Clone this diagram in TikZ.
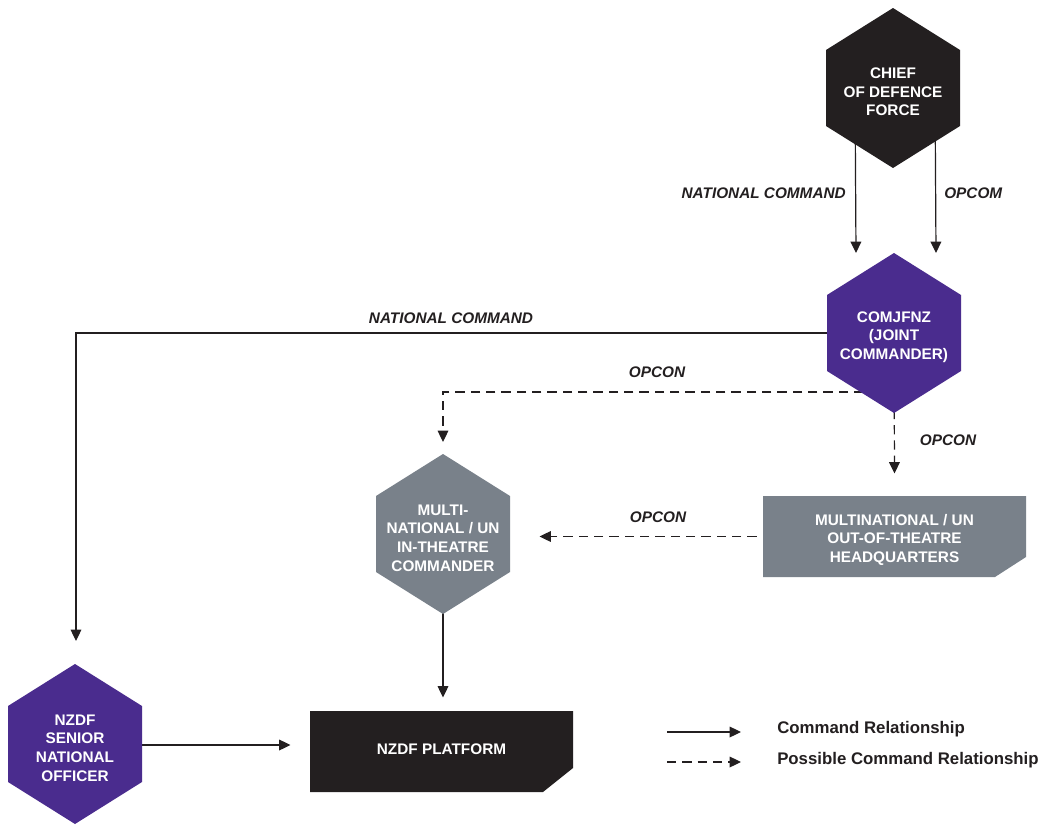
\documentclass[tikz,border=0pt]{standalone}
\usepackage{fontspec}
\setmainfont{Liberation Sans}
\usetikzlibrary{arrows.meta,calc,backgrounds}
\definecolor{hexblack}{HTML}{231F20}
\definecolor{hexpurple}{HTML}{4A2C8E}
\definecolor{hexgray}{HTML}{79818A}
\definecolor{linecol}{HTML}{231F20}
\newcommand{\hexfont}{\fontsize{11.5}{13.9}\selectfont\bfseries}
\newcommand{\labfont}{\fontsize{11.5}{13.9}\selectfont\bfseries\itshape}
\newcommand{\legfont}{\fontsize{12.6}{15}\selectfont\bfseries}
\tikzset{
  cmd/.style={draw=linecol, line width=0.9pt, -{Triangle[length=8.5pt,width=8pt]}},
  poss/.style={cmd, dash pattern=on 7pt off 4.5pt},
  hexlabel/.style={text=white, font=\hexfont, align=center, inner sep=0pt},
  boxlabel/.style={text=white, font=\hexfont, align=center, inner sep=0pt},
  lab/.style={font=\labfont, text=linecol, inner sep=0pt},
  leg/.style={font=\legfont, text=linecol, inner sep=0pt, anchor=west},
}
% name, cx, cy, colour, text
\newcommand{\hexat}[5]{%
  \coordinate (#1) at (#2,#3);
  \fill[#4] (#2,#3) ++(0,-80) -- ++(67,42) -- ++(0,76) -- ++(-67,42) -- ++(-67,-42) -- ++(0,-76) -- cycle;
  \node[hexlabel] (#1-label) at ($(#1)+(0,4)$) {#5};
}
\begin{document}
\begin{tikzpicture}[x=0.75pt,y=-0.75pt]
\useasboundingbox (0,0) rectangle (1047,828);

\hexat{cdf}{893}{88}{hexblack}{CHIEF\\OF DEFENCE\\FORCE}
\hexat{jc}{894}{333}{hexpurple}{COMJFNZ\\(JOINT\\COMMANDER)}
\hexat{mn}{443}{534}{hexgray}{MULTI-\\NATIONAL / UN\\IN-THEATRE\\COMMANDER}
\hexat{sno}{75}{744}{hexpurple}{NZDF\\SENIOR\\NATIONAL\\OFFICER}

% out-of-theatre HQ (chamfered box)
\coordinate (hq) at (894.5,536.5);
\fill[hexgray] (763,496) -- (1026,496) -- (1026,557) -- (995,577) -- (763,577) -- cycle;
\node[boxlabel] (hq-label) at ($(hq)+(0,3)$) {MULTINATIONAL / UN\\OUT-OF-THEATRE\\HEADQUARTERS};

% NZDF platform
\coordinate (plat) at (441.5,751.5);
\fill[hexblack] (310,711) -- (573,711) -- (573,768) -- (543,792) -- (310,792) -- cycle;
\node[boxlabel] (plat-label) at ($(plat)+(0,-2)$) {NZDF PLATFORM};

% labels
\node[lab, anchor=east] (l-nc1) at (846,193) {NATIONAL COMMAND};
\node[lab, anchor=west] (l-opcom) at (944,193) {OPCOM};
\node[lab] (l-nc2) at (451,318) {NATIONAL COMMAND};
\node[lab] (l-opcon1) at (657,372) {OPCON};
\node[lab] (l-opcon2) at (948,440) {OPCON};
\node[lab] (l-opcon3) at (658,517) {OPCON};

% legend
\coordinate (la1) at (667,732);
\coordinate (la2) at (741,732);
\coordinate (lb1) at (667,762);
\coordinate (lb2) at (741,762);
\node[leg] (leg1) at (777,729) {Command Relationship};
\node[leg] (leg2) at (777,760) {Possible Command Relationship};

\begin{pgfonlayer}{background}
  \fill[white] (0,0) rectangle (1047,828);
  \draw[cmd] ($(cdf)+(-38,0)$) -- ($(jc)+(-38,-80)$);
  \draw[cmd] ($(cdf)+(42,0)$) -- ($(jc)+(42,-80)$);
  \draw[cmd] (jc) -| ($(sno)+(1,-103)$);
  \draw[poss] ($(jc)+(0,59)$) -| ($(mn)+(0,-92)$);
  \draw[poss] (jc) -- ($(hq)+(0,-63)$);
  \draw[poss] (hq) -- ($(hq)+(-355,0)$);
  \draw[cmd] (mn) -- ($(plat)+(1.5,-54)$);
  \draw[cmd] ($(sno)+(0,1)$) -- ($(plat)+(-151,-6.5)$);
  \draw[cmd] (la1) -- (la2);
  \draw[poss] (lb1) -- (lb2);
\end{pgfonlayer}
\end{tikzpicture}
\end{document}
